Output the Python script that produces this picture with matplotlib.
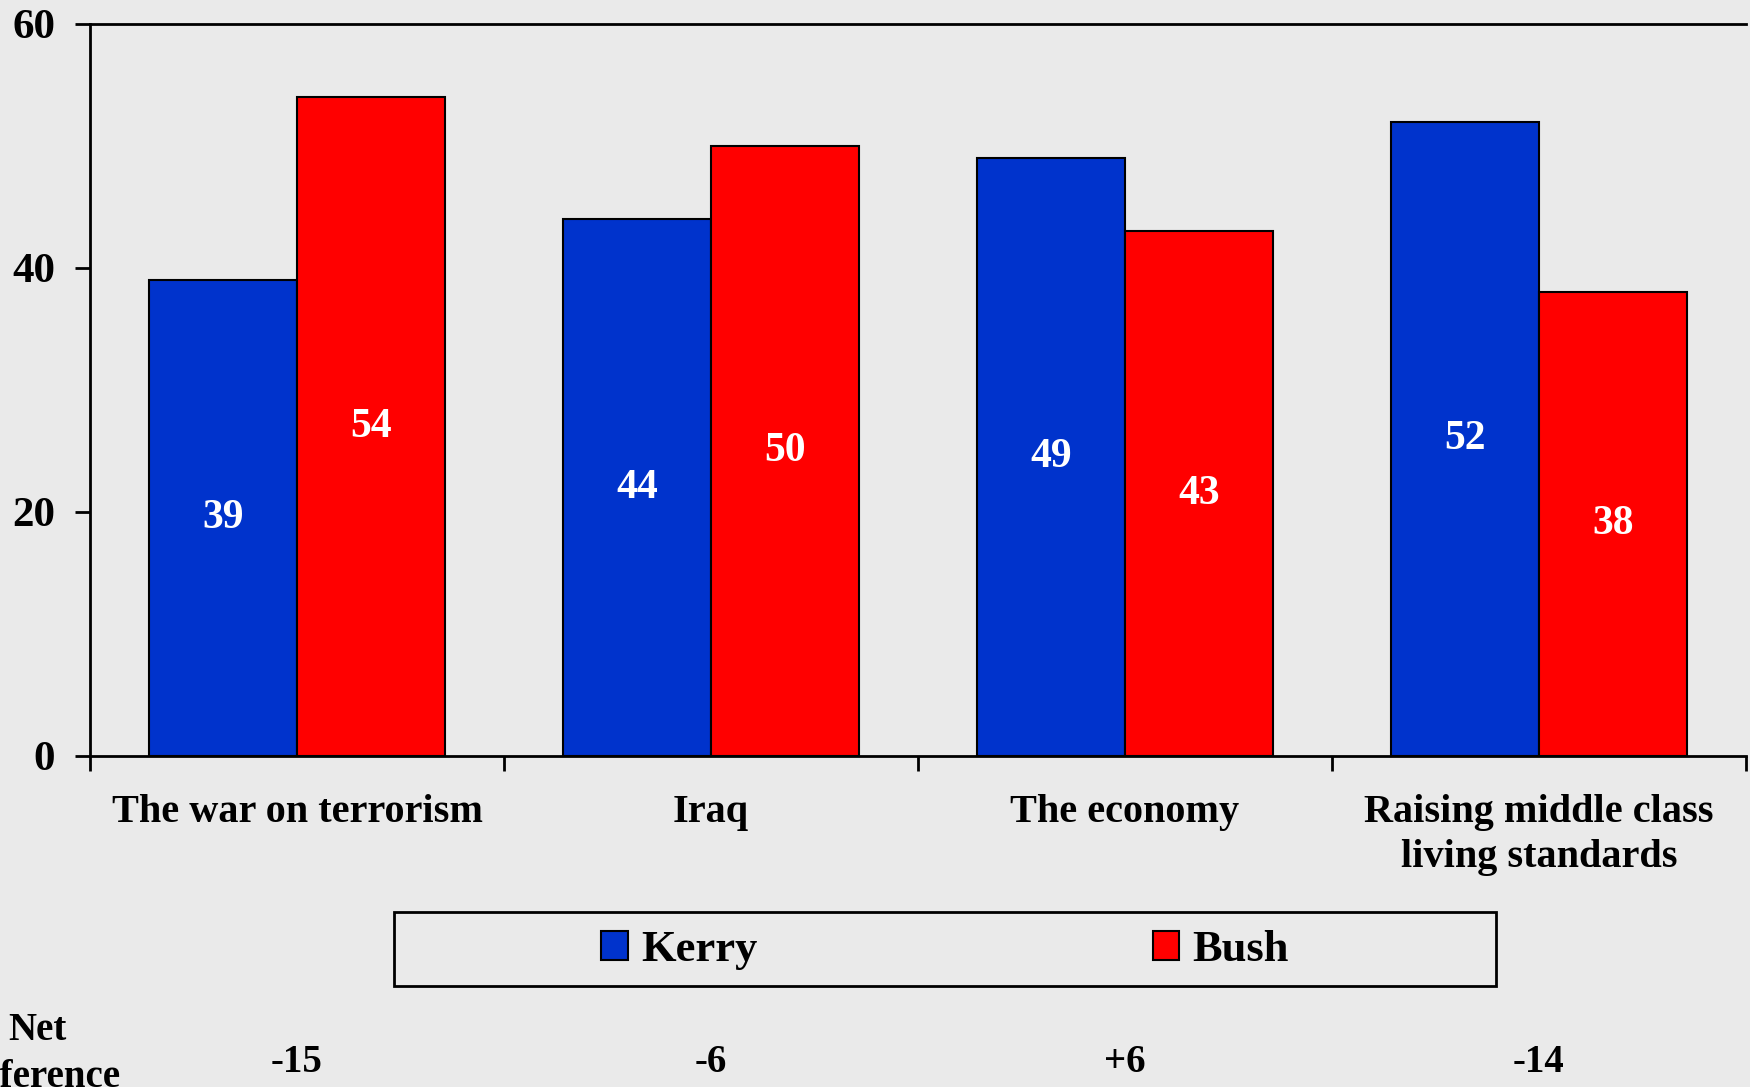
import matplotlib.pyplot as plt
import numpy as np
from matplotlib.patches import Patch, Rectangle

categories = ['The war on terrorism', 'Iraq', 'The economy', 'Raising middle class\nliving standards']
kerry = [39, 44, 49, 52]
bush = [54, 50, 43, 38]
net_diff = ['-15', '-6', '+6', '-14']

bg = '#EAEAEA'
blue = '#0033CC'
red = '#FF0000'
plt.rcParams['font.family'] = ['Liberation Serif', 'DejaVu Serif']
plt.rcParams['font.weight'] = 'bold'

W, H = 1750, 1087
fig = plt.figure(figsize=(17.5, 10.87), dpi=100, facecolor=bg)
ax = fig.add_axes([90 / W, 1 - 756 / H, (1746 - 90) / W, (756 - 24) / H])
ax.set_facecolor(bg)

x = np.arange(len(categories))
w = 0.358
b1 = ax.bar(x - w / 2, kerry, w, color=blue, edgecolor='black', linewidth=1.5, label='Kerry')
b2 = ax.bar(x + w / 2, bush, w, color=red, edgecolor='black', linewidth=1.5, label='Bush')
for bars in (b1, b2):
    for r in bars:
        h = r.get_height()
        ax.text(r.get_x() + r.get_width() / 2, h / 2, f'{h:.0f}', ha='center', va='center',
                color='white', fontsize=30, fontweight='bold')

ax.set_xlim(-0.5, 3.5)
ax.set_ylim(0, 60)
ax.set_yticks([0, 20, 40, 60])
ax.tick_params(axis='y', direction='out', length=11, width=2, labelsize=31, pad=14)
ax.set_xticks(np.arange(-0.5, 4, 1))
ax.set_xticklabels([])
ax.tick_params(axis='x', direction='out', length=11, width=2)
ax.spines['right'].set_visible(False)
for s in ('left', 'top', 'bottom'):
    ax.spines[s].set_linewidth(2)

for i, c in enumerate(categories):
    ax.text(i, -3.1, c, ha='center', va='top', fontsize=29, fontweight='bold',
            linespacing=1.3, transform=ax.transData)

# legend box
fig.patches.append(Rectangle((394 / W, 1 - 986 / H), (1496 - 394) / W, 74 / H,
                             transform=fig.transFigure, facecolor=bg, edgecolor='black',
                             linewidth=2, zorder=0))
handles = [Patch(facecolor=blue, edgecolor='black', linewidth=1.5),
           Patch(facecolor=red, edgecolor='black', linewidth=1.5)]
fig.legend(handles, ['Kerry', 'Bush'], loc='center', bbox_to_anchor=(945 / W, 1 - 950 / H),
           ncol=2, frameon=False, fontsize=32, handlelength=0.6, handleheight=0.65,
           handletextpad=0.3, columnspacing=8.9)

fig.text(37 / W, 1 - 1054 / H, 'Net\ndifference', ha='center', va='center', fontsize=28,
         fontweight='bold', linespacing=1.35)
for i, d in enumerate(net_diff):
    xf = ax.transData.transform((i, 0))[0] / W
    fig.text(xf, 1 - 1062 / H, d, ha='center', va='center', fontsize=28, fontweight='bold')

fig.savefig('out.png', dpi=100, facecolor=bg)
